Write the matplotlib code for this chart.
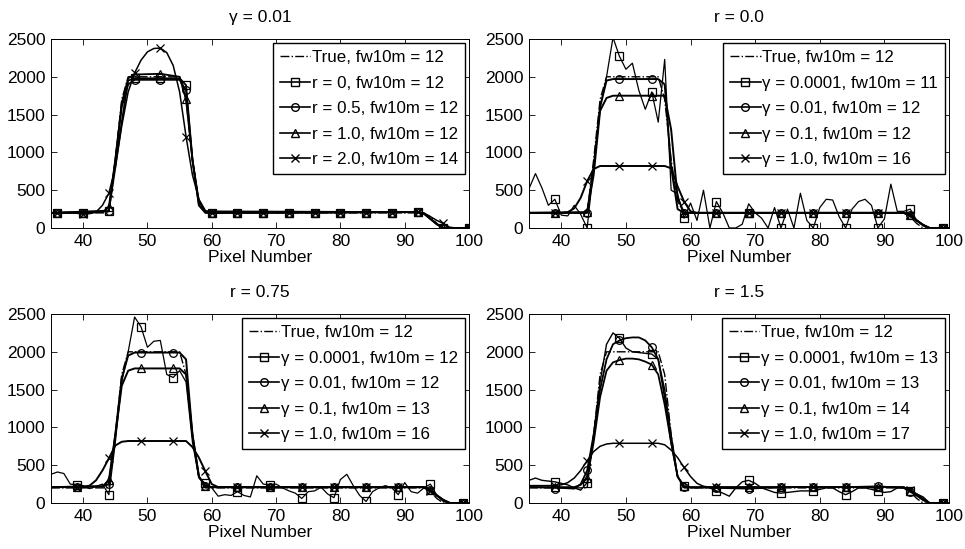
import numpy as np
import matplotlib.pyplot as plt
from matplotlib.lines import Line2D

plt.rcParams['font.family'] = ['Liberation Sans', 'DejaVu Sans']
plt.rcParams['font.size'] = 12

# marker positions (pixel numbers)
mk_a = np.arange(36, 101, 4)
mk_b = np.arange(39, 100, 5)
pix = np.arange(35, 101)

# true profile
true_x = [35, 44, 45, 46, 47, 55, 56, 57, 58, 59, 93, 94, 95, 96, 100]
true_y = [200, 200, 900, 1700, 2000, 2000, 1700, 900, 350, 200, 200, 150, 60, 0, 0]

# ---- panel 1 : gamma = 0.01, varying r
p1_r0_x = [35, 44, 45, 46, 47, 48, 55, 56, 57, 58, 59, 60, 92, 93, 94, 95, 96, 100]
p1_r0_y = [200, 230, 800, 1400, 1950, 1980, 1980, 1890, 900, 300, 210, 200, 210, 190, 120, 50, 0, 0]
p1_r0_m = [200, 200, 230, 1980, 1980, 1890, 200, 200, 200, 200, 200, 200, 200, 200, 210, 0, 0]

p1_r05_x = [35, 44, 45, 46, 47, 48, 55, 56, 57, 58, 59, 92, 93, 94, 95, 96, 100]
p1_r05_y = [200, 220, 900, 1600, 1900, 1960, 1960, 1820, 900, 300, 200, 210, 190, 120, 50, 0, 0]
p1_r05_m = [200, 200, 220, 1960, 1960, 1820, 200, 200, 200, 200, 200, 200, 200, 200, 210, 0, 0]

p1_r1_x = [35, 43, 44, 45, 46, 47, 48, 52, 55, 56, 57, 58, 59, 92, 93, 94, 95, 96, 100]
p1_r1_y = [200, 210, 280, 900, 1650, 1980, 2030, 2040, 2000, 1700, 900, 350, 220, 210, 190, 120, 50, 0, 0]
p1_r1_m = [200, 200, 280, 2030, 2040, 1700, 200, 200, 200, 200, 200, 200, 200, 200, 210, 0, 0]

p1_r2_x = [35, 39, 40, 41, 42, 43, 44, 45, 46, 47, 48, 49, 50, 51, 52, 53, 54, 55, 56, 57, 58, 59, 60,
           92, 93, 94, 95, 96, 97, 98, 100]
p1_r2_y = [200, 195, 185, 190, 210, 300, 460, 800, 1350, 1800, 2050, 2220, 2330, 2375, 2380, 2320, 2150,
           1800, 1210, 700, 380, 230, 200, 210, 190, 150, 100, 60, 10, 0, 0]
p1_r2_m = [200, 185, 460, 2050, 2380, 1210, 200, 200, 200, 200, 200, 200, 200, 200, 210, 60, 0]

# ---- panel 2 : r = 0.0, varying gamma
p2_g4_y = [520, 720, 530, 300, 380, 170, 160, 300, 180, 0, 800, 1600, 2000, 2520, 2270, 2100, 2180, 1820,
           1570, 1800, 1400, 2230, 500, 450, 130, 330, 100, 500, 0, 350, 200, 0, 0, 50, 320, 200, 130, 0,
           270, 0, 250, 0, 460, 100, 0, 270, 380, 370, 150, 0, 250, 350, 380, 300, 0, 120, 580, 220, 220,
           250, 100, 30, 0, 0, 0, 0]
p2_g4_m = [380, 0, 2270, 1800, 130, 350, 200, 0, 0, 0, 0, 250, 0]

p2_g2_x = [35, 44, 45, 46, 47, 48, 55, 56, 57, 58, 59, 93, 94, 95, 96, 97, 100]
p2_g2_y = [200, 200, 800, 1600, 1950, 1970, 1970, 1900, 800, 250, 200, 200, 170, 100, 40, 0, 0]
p2_g2_m = [200, 200, 1970, 1970, 200, 200, 200, 200, 200, 200, 200, 170, 0]

p2_g1_x = [35, 44, 45, 46, 47, 48, 56, 57, 58, 59, 93, 94, 95, 96, 97, 100]
p2_g1_y = [200, 210, 700, 1550, 1720, 1750, 1750, 1300, 400, 200, 200, 170, 100, 40, 0, 0]
p2_g1_m = [200, 210, 1750, 1750, 200, 200, 200, 200, 200, 200, 200, 170, 0]

p2_g0_x = [35, 40, 41, 42, 43, 44, 45, 46, 56, 57, 58, 59, 60, 61, 93, 94, 95, 96, 97, 100]
p2_g0_y = [200, 200, 210, 260, 400, 620, 780, 820, 820, 790, 550, 350, 220, 200, 200, 170, 100, 40, 0, 0]
p2_g0_m = [200, 620, 820, 820, 350, 200, 200, 200, 200, 200, 200, 170, 0]

# ---- panel 3 : r = 0.75
p3_g4_y = [380, 410, 390, 250, 240, 230, 190, 220, 250, 110, 800, 1600, 2000, 2460, 2330, 2060, 2140, 2150,
           1700, 1660, 1750, 1600, 800, 330, 260, 200, 90, 110, 100, 150, 100, 80, 360, 250, 240, 250, 200,
           160, 130, 60, 150, 160, 210, 120, 70, 310, 380, 230, 100, 20, 150, 200, 230, 200, 110, 270, 150,
           130, 200, 250, 100, 20, 0, 0, 0, 0]
p3_g4_m = [240, 110, 2330, 1660, 260, 150, 240, 60, 70, 20, 110, 250, 0]

p3_g2_x = [35, 43, 44, 45, 46, 47, 48, 55, 56, 57, 58, 59, 60, 93, 94, 95, 96, 97, 100]
p3_g2_y = [210, 220, 250, 900, 1650, 1950, 1990, 1990, 1900, 900, 350, 220, 210, 210, 170, 100, 40, 0, 0]
p3_g2_m = [210, 250, 1990, 1990, 220, 210, 210, 210, 210, 210, 210, 170, 0]

p3_g1_x = [35, 43, 44, 45, 46, 47, 48, 55, 56, 57, 58, 59, 60, 93, 94, 95, 96, 97, 100]
p3_g1_y = [210, 220, 300, 900, 1550, 1750, 1780, 1780, 1700, 900, 350, 230, 210, 210, 170, 100, 40, 0, 0]
p3_g1_m = [210, 300, 1780, 1780, 230, 210, 210, 210, 210, 210, 210, 170, 0]

p3_g0_x = [35, 40, 41, 42, 43, 44, 45, 46, 47, 56, 57, 58, 59, 60, 61, 93, 94, 95, 96, 97, 100]
p3_g0_y = [210, 210, 230, 300, 430, 590, 760, 810, 820, 820, 740, 600, 420, 250, 210, 210, 160, 100, 40, 0, 0]
p3_g0_m = [210, 590, 820, 820, 420, 210, 210, 210, 210, 210, 210, 160, 0]

# ---- panel 4 : r = 1.5
p4_g4_y = [300, 330, 300, 290, 280, 260, 240, 200, 170, 270, 900, 1600, 2100, 2250, 2180, 2050, 2000, 1990,
           1980, 1970, 1900, 1500, 900, 350, 220, 200, 200, 220, 200, 160, 130, 90, 200, 280, 300, 260, 200,
           170, 140, 130, 140, 150, 160, 160, 160, 180, 200, 200, 150, 110, 150, 200, 200, 180, 160, 140,
           150, 200, 200, 160, 120, 80, 0, 0, 0, 0]
p4_g4_m = [280, 270, 2180, 1970, 220, 160, 300, 130, 160, 110, 160, 160, 0]

p4_g2_x = [35, 40, 42, 43, 44, 45, 46, 47, 48, 49, 50, 51, 52, 53, 54, 55, 56, 57, 58, 59, 64, 69, 74,
           79, 84, 89, 93, 94, 95, 96, 97, 100]
p4_g2_y = [210, 200, 190, 250, 430, 900, 1500, 1900, 2100, 2150, 2180, 2190, 2190, 2150, 2060, 1900,
           1400, 800, 350, 210, 200, 190, 210, 210, 210, 220, 200, 150, 100, 40, 0, 0]
p4_g2_m = [190, 430, 2150, 2060, 210, 200, 190, 210, 210, 210, 220, 150, 0]

p4_g1_x = [35, 40, 42, 43, 44, 45, 46, 47, 48, 49, 50, 51, 52, 53, 54, 55, 56, 57, 58, 59, 60, 93, 94,
           95, 96, 97, 100]
p4_g1_y = [210, 210, 210, 240, 330, 800, 1400, 1750, 1860, 1890, 1910, 1910, 1900, 1870, 1830, 1700,
           1300, 800, 350, 220, 210, 210, 160, 100, 40, 0, 0]
p4_g1_m = [210, 330, 1890, 1830, 220, 210, 210, 210, 210, 210, 210, 160, 0]

p4_g0_x = [35, 38, 40, 41, 42, 43, 44, 45, 46, 47, 48, 55, 56, 57, 58, 59, 60, 61, 62, 63, 93, 94, 95,
           96, 97, 100]
p4_g0_y = [230, 230, 240, 270, 330, 430, 560, 680, 750, 780, 790, 790, 770, 700, 600, 470, 350, 260, 220,
           210, 210, 170, 120, 60, 0, 0]
p4_g0_m = [230, 560, 790, 790, 470, 210, 210, 210, 210, 210, 210, 170, 0]

titles = ['\u03b3 = 0.01', 'r = 0.0', 'r = 0.75', 'r = 1.5']
labels = [
    ['True, fw10m = 12', 'r = 0, fw10m = 12', 'r = 0.5, fw10m = 12', 'r = 1.0, fw10m = 12', 'r = 2.0, fw10m = 14'],
    ['True, fw10m = 12', '\u03b3 = 0.0001, fw10m = 11', '\u03b3 = 0.01, fw10m = 12', '\u03b3 = 0.1, fw10m = 12', '\u03b3 = 1.0, fw10m = 16'],
    ['True, fw10m = 12', '\u03b3 = 0.0001, fw10m = 12', '\u03b3 = 0.01, fw10m = 12', '\u03b3 = 0.1, fw10m = 13', '\u03b3 = 1.0, fw10m = 16'],
    ['True, fw10m = 12', '\u03b3 = 0.0001, fw10m = 13', '\u03b3 = 0.01, fw10m = 13', '\u03b3 = 0.1, fw10m = 14', '\u03b3 = 1.0, fw10m = 17'],
]

curves = [
    [(p1_r0_x, p1_r0_y, p1_r0_m), (p1_r05_x, p1_r05_y, p1_r05_m), (p1_r1_x, p1_r1_y, p1_r1_m), (p1_r2_x, p1_r2_y, p1_r2_m)],
    [(pix, p2_g4_y, p2_g4_m), (p2_g2_x, p2_g2_y, p2_g2_m), (p2_g1_x, p2_g1_y, p2_g1_m), (p2_g0_x, p2_g0_y, p2_g0_m)],
    [(pix, p3_g4_y, p3_g4_m), (p3_g2_x, p3_g2_y, p3_g2_m), (p3_g1_x, p3_g1_y, p3_g1_m), (p3_g0_x, p3_g0_y, p3_g0_m)],
    [(pix, p4_g4_y, p4_g4_m), (p4_g2_x, p4_g2_y, p4_g2_m), (p4_g1_x, p4_g1_y, p4_g1_m), (p4_g0_x, p4_g0_y, p4_g0_m)],
]
marks = [mk_a, mk_b, mk_b, mk_b]
syms = ['s', 'o', '^', 'x']
# first panel: all smooth; others: gamma=0.0001 is the noisy thin one
widths = [[1.3, 1.3, 1.3, 1.1], [0.9, 1.4, 1.4, 1.4], [0.9, 1.4, 1.4, 1.4], [1.0, 1.3, 1.3, 1.1]]

fig = plt.figure(figsize=(9.65, 5.49), dpi=100)
rects = [[51/965, 321/549, 418/965, 189/549], [529/965, 321/549, 420/965, 189/549],
         [51/965, 46/549, 418/965, 189/549], [529/965, 46/549, 420/965, 189/549]]

for i in range(4):
    ax = fig.add_axes(rects[i])
    ax.plot(true_x, true_y, color='k', ls='-.', lw=1)
    for (x, y, m), s, w in zip(curves[i], syms, widths[i]):
        ax.plot(x, y, color='k', lw=w)
        ax.plot(marks[i], m, ls='none', marker=s, mfc='none', mec='k', ms=5.5, mew=0.9)
    ax.set_xlim(35, 100)
    ax.set_ylim(0, 2500)
    ax.set_xticks([40, 50, 60, 70, 80, 90, 100])
    ax.set_yticks([0, 500, 1000, 1500, 2000, 2500])
    ax.tick_params(direction='in', top=True, right=True, length=4, width=0.6, labelsize=12.5, pad=4)
    for sp in ax.spines.values():
        sp.set_linewidth(0.7)
    ax.set_title(titles[i], fontsize=12.5, pad=12)
    ax.set_xlabel('Pixel Number', fontsize=12.5, labelpad=1)
    hs = [Line2D([], [], color='k', ls='-.', lw=1)]
    hs += [Line2D([], [], color='k', lw=1.2, marker=s, mfc='none', mec='k', ms=5.5) for s in syms]
    ax.legend(hs, labels[i], loc='upper right', fontsize=12.2, frameon=True, fancybox=False,
              edgecolor='k', framealpha=1, borderaxespad=0.25, handlelength=1.8, handletextpad=0.1,
              labelspacing=0.62, borderpad=0.4)

fig.savefig('out.png', dpi=100)
